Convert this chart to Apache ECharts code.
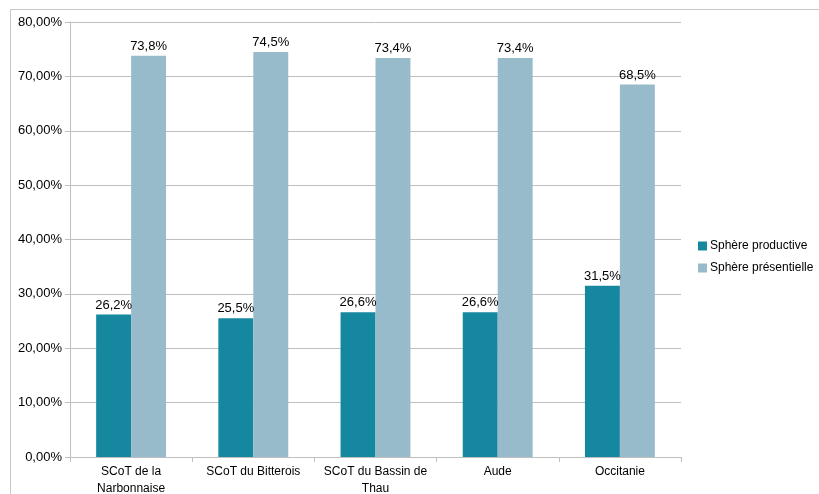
<!DOCTYPE html>
<html>
<head>
<meta charset="utf-8">
<script src="https://cdn.jsdelivr.net/npm/echarts@6/dist/echarts.min.js"></script>
<style>
html,body{margin:0;padding:0;background:#fff;}
#frame{position:absolute;left:10px;top:9px;width:809px;height:485px;border-top:1px solid #c8c8c8;border-left:1px solid #c8c8c8;}
#chart{position:absolute;left:0;top:0;width:819px;height:494px;}
</style>
</head>
<body>
<div id="frame"></div>
<div id="chart"></div>
<script>
const categories = ['SCoT de la\nNarbonnaise', 'SCoT du Bitterois', 'SCoT du Bassin de\nThau', 'Aude', 'Occitanie'];
const seriesNames = ['Sphère productive', 'Sphère présentielle'];
const productive = [26.2, 25.5, 26.6, 26.6, 31.5];
const presentielle = [73.8, 74.5, 73.4, 73.4, 68.5];

const font = 'Liberation Sans, Arial, sans-serif';
const chart = echarts.init(document.getElementById('chart'), null, {renderer: 'canvas'});
const labelCfg = {
  show: true, position: 'top', distance: 3, color: '#000', fontSize: 13, fontFamily: font,
  formatter: p => p.value.toFixed(1).replace('.', ',') + '%'
};
chart.setOption({
  animation: false,
  backgroundColor: 'transparent',
  grid: {left: 70, right: 138, top: 22, bottom: 37, containLabel: false, outerBoundsMode: 'none'},
  legend: {
    orient: 'vertical', left: 693, top: 235, itemWidth: 9, itemHeight: 9, itemGap: 10,
    icon: 'rect',
    textStyle: {fontSize: 12, fontFamily: font, color: '#000', padding: [0, 0, 0, -2]},
    data: seriesNames
  },
  xAxis: {
    type: 'category', data: categories,
    axisLine: {lineStyle: {color: '#bfbfbf'}},
    axisTick: {show: true, length: 5, lineStyle: {color: '#bfbfbf'}},
    axisLabel: {color: '#000', fontSize: 12, fontFamily: font, margin: 6, lineHeight: 17, interval: 0}
  },
  yAxis: {
    type: 'value', min: 0, max: 80, interval: 10,
    axisLine: {show: true, lineStyle: {color: '#bfbfbf'}},
    axisTick: {show: true, length: 5, lineStyle: {color: '#bfbfbf'}},
    splitLine: {lineStyle: {color: '#bfbfbf'}},
    axisLabel: {color: '#000', fontSize: 13, fontFamily: font, margin: 8,
      formatter: v => v.toFixed(2).replace('.', ',') + '%'}
  },
  series: [
    {name: seriesNames[0], type: 'bar', data: productive, barWidth: '28.6%', barGap: '0%',
     itemStyle: {color: '#15889f'}, label: labelCfg},
    {name: seriesNames[1], type: 'bar', data: presentielle, barWidth: '28.6%', barGap: '0%',
     itemStyle: {color: '#97bbca'}, label: labelCfg}
  ]
});
</script>
</body>
</html>
